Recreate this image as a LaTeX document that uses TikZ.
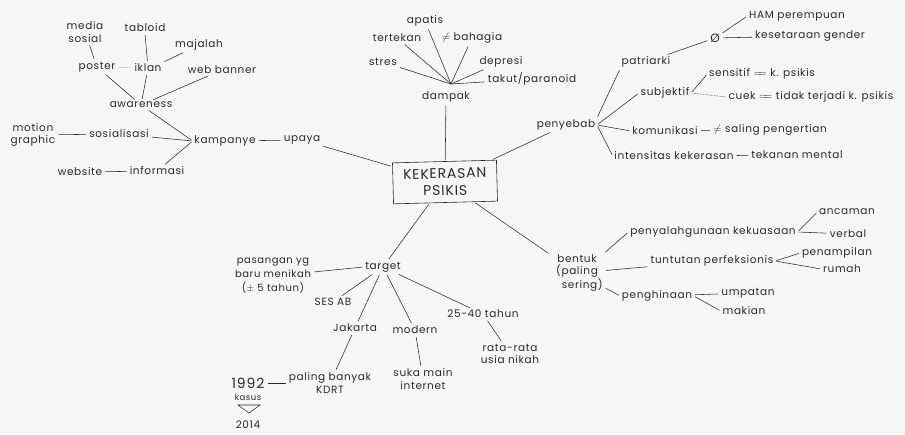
\documentclass[tikz,border=0pt]{standalone}
\usepackage{amsmath}
\usepackage{amssymb}
\usepackage{fontspec}
\setmainfont{Poppins}[LetterSpace=6]
\definecolor{paper}{HTML}{F6F6F4}
\definecolor{ink}{HTML}{2A2A2A}

\begin{document}
\begin{tikzpicture}[x=1pt, y=-1pt,
    txt/.style={font=\fontsize{10.5}{12.5}\selectfont, text=ink, inner sep=1.5pt, align=center},
    ln/.style={draw=ink, line width=0.55pt, shorten <=1.5pt, shorten >=1.5pt}]
    % Paper and frame
    \fill[paper] (0,0) rectangle (905,434);
    \useasboundingbox (0,0) rectangle (905,434);

    % Central box
    \node[txt, draw=ink, line width=0.6pt, rotate=1.5, font=\fontsize{14}{17}\selectfont,
        minimum width=104, minimum height=41] (center) at (445,182) {KEKERASAN\\PSIKIS};

    % Upaya branch: kampanye and awareness
    \node[txt] (upaya) at (302,140) {upaya};
    \node[txt] (kampanye) at (225,141) {kampanye};
    \node[txt] (awareness) at (141,105) {awareness};
    \node[txt] (sosialisasi) at (119,134) {sosialisasi};
    \node[txt] (informasi) at (157,171) {informasi};
    \node[txt] (motion) at (33,135) {motion\\graphic};
    \node[txt] (website) at (80,172) {website};
    \node[txt] (poster) at (97,67) {poster};
    \node[txt] (iklan) at (148,68) {iklan};
    \node[txt] (webbanner) at (222,70) {web banner};
    \node[txt] (medsos) at (85,32) {media\\sosial};
    \node[txt] (tabloid) at (145,28) {tabloid};
    \node[txt] (majalah) at (199,45) {majalah};

    \draw[ln] (center) -- (upaya);
    \draw[ln] (upaya) -- (kampanye);
    \draw[ln] (kampanye.west) -- (awareness);
    \draw[ln] (kampanye.west) -- (sosialisasi);
    \draw[ln] (kampanye.west) -- (informasi);
    \draw[ln] (sosialisasi) -- (motion);
    \draw[ln] (informasi) -- (website);
    \draw[ln] (awareness) -- (poster);
    \draw[ln] (awareness) -- (iklan);
    \draw[ln] (awareness) -- (webbanner);
    \draw[ln, draw=ink!25] (poster) -- (iklan);
    \draw[ln] (poster) -- (medsos);
    \draw[ln] (iklan) -- (tabloid.south);
    \draw[ln] (iklan.north east) -- (majalah);

    % Dampak branch
    \node[txt] (dampak) at (446,97) {dampak};
    \coordinate (hubD) at (451,84);
    \node[txt] (apatis) at (425,21) {apatis};
    \node[txt] (tertekan) at (397,38) {tertekan};
    \node[txt] (bahagia) at (472,38) {$\neq$ bahagia};
    \node[txt] (stres) at (383,62) {stres};
    \node[txt] (depresi) at (501,62) {depresi};
    \node[txt] (takut) at (532,79) {takut/paranoid};

    \draw[ln] (center) -- (dampak);
    \foreach \n in {apatis, tertekan, bahagia, stres, depresi, takut}
        \draw[ln, shorten >=0pt] (\n) -- (hubD);

    % Penyebab branch
    \node[txt] (penyebab) at (566,125) {penyebab};
    \node[txt] (patriarki) at (646,62) {patriarki};
    \node[txt, font=\fontsize{12}{14}\selectfont] (nul) at (715,38) {Ø};
    \node[txt] (ham) at (797,16) {HAM perempuan};
    \node[txt] (setara) at (810,36) {kesetaraan gender};
    \node[txt] (subjektif) at (665,93) {subjektif};
    \node[txt] (sensitif) at (762,74) {sensitif $=\!\!=$ k. psikis};
    \node[txt] (cuek) at (811,97) {cuek $=\!\!=$ tidak terjadi k. psikis};
    \node[txt] (komunikasi) at (665,131) {komunikasi};
    \node[txt] (pengertian) at (770,130) {$\neq$ saling pengertian};
    \node[txt] (intensitas) at (674,156) {intensitas kekerasan};
    \node[txt] (tekanan) at (797,155) {tekanan mental};

    \draw[ln] (center) -- (penyebab);
    \draw[ln] (penyebab.north east) -- (patriarki.south west);
    \draw[ln] (penyebab.east) -- (subjektif.west);
    \draw[ln] (penyebab.east) -- (komunikasi.west);
    \draw[ln] (penyebab.east) -- (intensitas.west);
    \draw[ln] (patriarki) -- (nul);
    \draw[ln] (nul) -- (ham.west);
    \draw[ln] (nul) -- (setara);
    \draw[ln] (subjektif.east) -- (sensitif.west);
    \draw[ln, densely dotted] (subjektif.east) -- (cuek.west);
    \draw[ln] (komunikasi) -- (pengertian);
    \draw[ln] (intensitas) -- (tekanan);

    % Target branch
    \node[txt] (target) at (383,267) {target};
    \node[txt, font=\fontsize{10}{14}\selectfont] (pasangan) at (273,276) {pasangan yg\\baru menikah\\($\pm$ 5 tahun)};
    \node[txt] (ses) at (333,302) {SES AB};
    \node[txt] (jakarta) at (355,328) {Jakarta};
    \node[txt] (modern) at (415,330) {modern};
    \node[txt] (umur) at (483,314) {25-40 tahun};
    \node[txt] (ratarata) at (510,354) {rata-rata\\usia nikah};
    \node[txt] (suka) at (423,379) {suka main\\internet};
    \node[txt] (kdrt) at (330,383) {paling banyak\\KDRT};
    \node[txt, font=\fontsize{14}{15}\selectfont] (tahunA) at (248,383) {1992};
    \node[txt, font=\fontsize{8.5}{9}\selectfont] (kasus) at (248,397) {kasus};
    \node[txt] (tahunB) at (248,425) {2014};

    \draw[ln] (center) -- (target);
    \draw[ln] (target.west) -- (pasangan);
    \draw[ln] (target) -- (ses);
    \draw[ln] (target) -- (jakarta);
    \draw[ln] (target) -- (modern);
    \draw[ln] (target) -- (umur);
    \draw[ln] (umur) -- (ratarata);
    \draw[ln] (modern) -- (suka);
    \draw[ln] (jakarta) -- (kdrt);
    \draw[ln] (kdrt) -- (tahunA);
    % arrow-like mark between kasus and 2014
    \draw[ink, line width=0.55pt] (238,405) -- (260,405) -- (249,413) -- cycle;

    % Bentuk branch
    \node[txt] (bentuk) at (577,273) {bentuk\\(paling\\\hspace*{1em}sering)};
    \node[txt] (penyalah) at (713,232) {penyalahgunaan kekuasaan};
    \node[txt] (tuntutan) at (712,261) {tuntutan perfeksionis};
    \node[txt] (penghinaan) at (657,296) {penghinaan};
    \node[txt] (ancaman) at (847,212) {ancaman};
    \node[txt] (verbal) at (848,234) {verbal};
    \node[txt] (penampilan) at (837,253) {penampilan};
    \node[txt] (rumah) at (842,269) {rumah};
    \node[txt] (umpatan) at (748,293) {umpatan};
    \node[txt] (makian) at (744,311) {makian};

    \draw[ln] (center) -- (bentuk);
    \draw[ln] (bentuk.north east) -- (penyalah.west);
    \draw[ln] (bentuk) -- (tuntutan);
    \draw[ln] (bentuk) -- (penghinaan.west);
    \draw[ln] (penyalah.east) -- (ancaman.west);
    \draw[ln] (penyalah.east) -- (verbal);
    \draw[ln] (tuntutan.east) -- (penampilan.west);
    \draw[ln] (tuntutan.east) -- (rumah.west);
    \draw[ln] (penghinaan) -- (umpatan);
    \draw[ln] (penghinaan.east) -- (makian.west);
\end{tikzpicture}
\end{document}
